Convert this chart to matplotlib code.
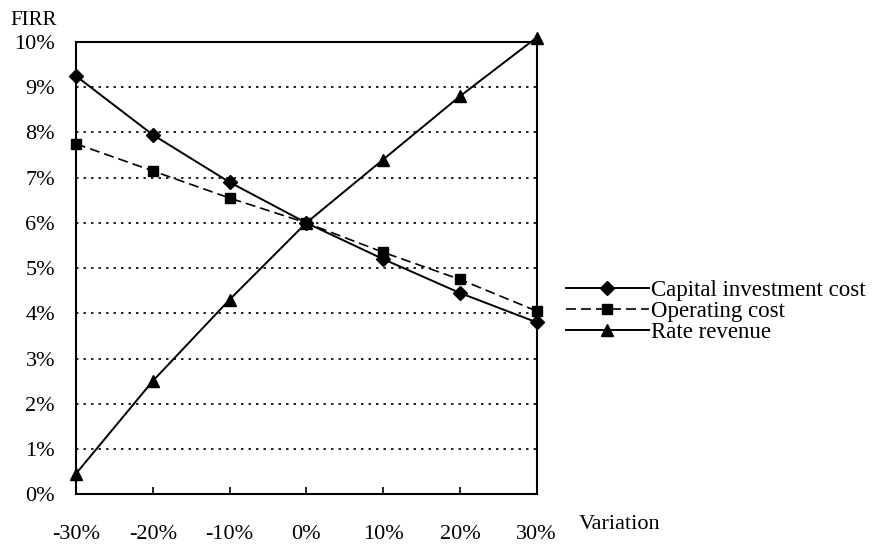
import matplotlib
matplotlib.use("Agg")
import matplotlib.pyplot as plt
from matplotlib.ticker import FuncFormatter

plt.rcParams["font.family"] = ["Liberation Serif", "DejaVu Serif"]

variation = [-30, -20, -10, 0, 10, 20, 30]
x_labels = ["-30%", "-20%", "-10%", "0%", "10%", "20%", "30%"]
capital = [9.25, 7.95, 6.9, 6.0, 5.2, 4.45, 3.8]
operating = [7.75, 7.15, 6.55, 6.0, 5.35, 4.75, 4.05]
revenue = [0.45, 2.5, 4.3, 6.0, 7.4, 8.8, 10.1]

fig = plt.figure(figsize=(8.93, 5.46), dpi=100)
ax = fig.add_axes([0.085, 0.095, 0.516, 0.828])

for yv in range(1, 10):
    ax.axhline(yv, color="black", lw=1.2, ls=(0, (1.5, 3)), zorder=1)

ax.plot(variation, capital, color="black", lw=1.4, marker="D", ms=7,
        label="Capital investment cost", clip_on=False, zorder=3)
ax.plot(variation, operating, color="black", lw=1.2, ls=(0, (6, 3)), marker="s", ms=7,
        label="Operating cost", clip_on=False, zorder=3)
ax.plot(variation, revenue, color="black", lw=1.4, marker="^", ms=9,
        label="Rate revenue", clip_on=False, zorder=3)

ax.set_xlim(-30, 30)
ax.set_ylim(0, 10)
ax.set_xticks(variation)
ax.set_xticklabels(x_labels)
ax.set_yticks(range(0, 11))
ax.yaxis.set_major_formatter(FuncFormatter(lambda v, p: "%d%%" % v))
ax.tick_params(axis="x", direction="in", length=5, width=1.2, pad=22, labelsize=16)
ax.tick_params(axis="y", length=0, pad=15, labelsize=16)
for s in ax.spines.values():
    s.set_linewidth(1.5)
    s.set_color("black")

fig.text(0.012, 0.962, "FIRR", fontsize=15, va="center", ha="left")
fig.text(0.648, 0.04, "Variation", fontsize=16, va="center", ha="left")

fig.legend(loc="upper left", bbox_to_anchor=(0.634, 0.488), frameon=False,
           fontsize=16.5, handlelength=3.6, handletextpad=0.1, labelspacing=0.0,
           borderaxespad=0, borderpad=0)

fig.savefig("out.png", dpi=100)
